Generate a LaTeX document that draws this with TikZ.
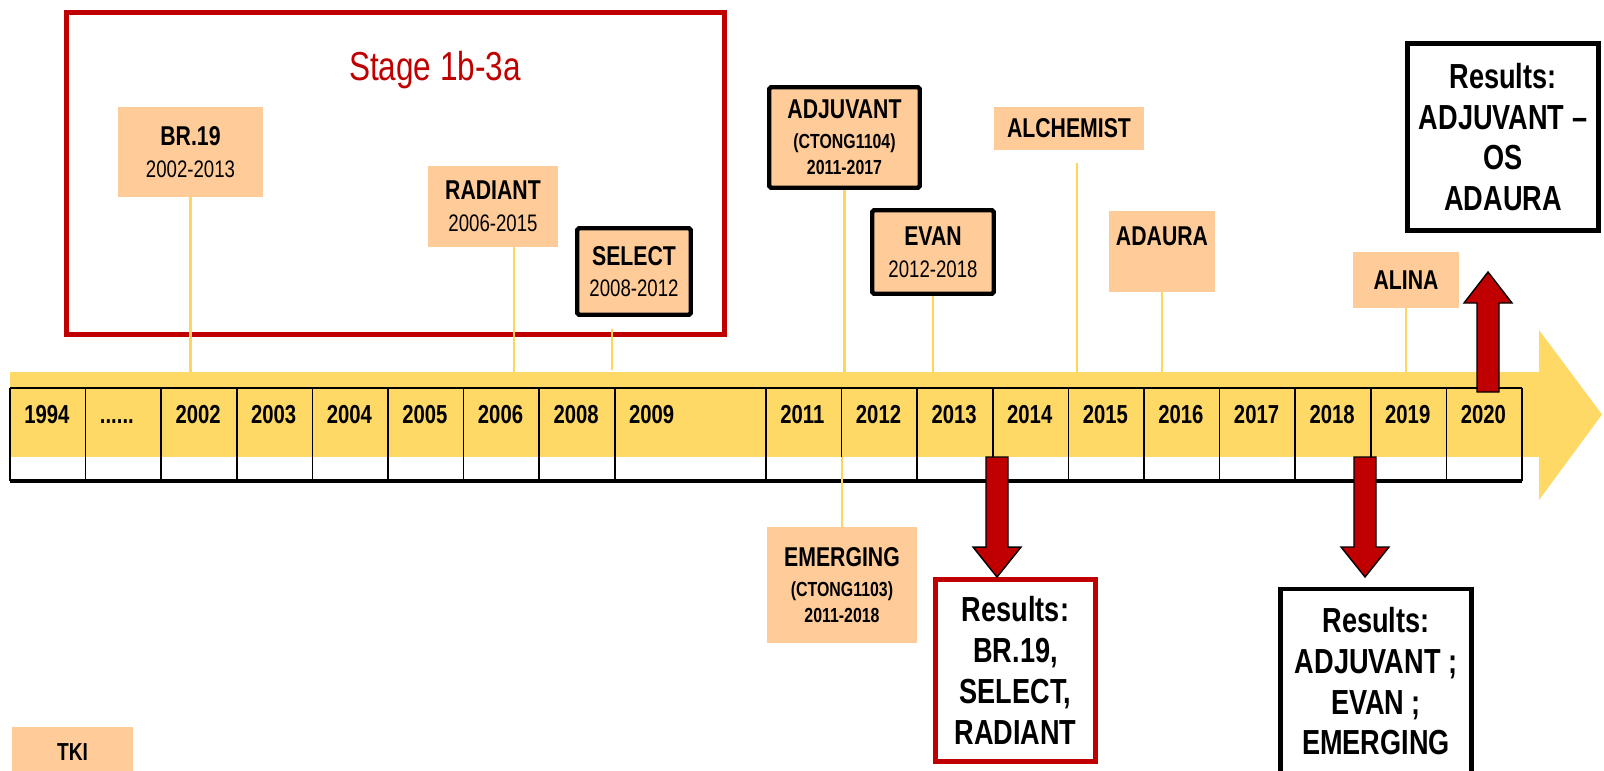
\documentclass[tikz,border=0pt]{standalone}
\usepackage{fontspec}
\setmainfont{Liberation Sans}[FakeStretch=0.78]
\usetikzlibrary{calc}

\definecolor{peach}{HTML}{FFCC99}
\definecolor{bandyellow}{HTML}{FFD966}
\definecolor{stemyellow}{HTML}{FFD55C}
\definecolor{stagered}{HTML}{C00000}

\newcommand{\trialyears}[1]{{\fontsize{13.6}{18}\selectfont\mdseries #1}}
\newcommand{\trialcode}[1]{{\fontsize{11.6}{14}\selectfont #1}}

\tikzset{
    trial/.style={fill=peach,align=center,inner sep=0pt,
        font=\fontsize{15.5}{18}\selectfont\bfseries},
    keytrial/.style={trial,draw=black,line width=2.5pt,rounded corners=1pt},
    result/.style={fill=white,draw=black,line width=2.8pt,align=center,inner sep=0pt,
        font=\fontsize{19.8}{23.2}\selectfont\bfseries},
    stem/.style={draw=stemyellow,line width=1.4pt},
    yearlbl/.style={anchor=base west,inner sep=0pt,font=\fontsize{14.8}{16}\selectfont\bfseries},
    bigarrow/.style={fill=stagered,draw=black,line width=0.8pt,line join=miter},
}

\begin{document}
\begin{tikzpicture}[x=0.02cm,y=-0.02cm]
        % Fix canvas
        \useasboundingbox (0,0) rectangle (1604,770);
        \clip (0,0) rectangle (1604,770);
        \fill[white] (0,0) rectangle (1604,770);
        % Draw stage frame
        \draw[stagered,line width=2.8pt] (66.5,12.5) rectangle (724.5,334.5);
        \node[text=stagered,font=\fontsize{23}{26}\selectfont] (stage) at (435,70) {Stage 1b-3a};
        % Draw timeline band with arrow head
        \fill[bandyellow] (10,372) rectangle (1540,457);
        \fill[bandyellow] (1539,330) -- (1602,414.5) -- (1539,500) -- cycle;
        \coordinate (bandtop) at (0,372);
        \coordinate (bandbot) at (0,457);
        % Draw year table
        \draw[line width=0.9pt] (10,388) -- (1522,388);
        \draw[line width=1.8pt] (10,481) -- (1522,481);
        \foreach \c in {0,1,2,3,4,5,6,7,8,10,11,12,13,14,15,16,17,18,19,20}
            \draw[line width=0.9pt] ({10+75.6*\c},388) -- ({10+75.6*\c},481);
        \foreach \c/\yr in {0/1994,1/{......},2/2002,3/2003,4/2004,5/2005,6/2006,7/2008,8/2009,
                10/2011,11/2012,12/2013,13/2014,14/2015,15/2016,16/2017,17/2018,18/2019,19/2020}
            \node[yearlbl] (y\c) at ({24+75.6*\c},423) {\yr};
        % Draw trial boxes
        \node[trial,minimum width=2.9cm,minimum height=1.8cm] (br19) at (190.5,152) {BR.19\\\trialyears{2002-2013}};
        \node[trial,minimum width=2.6cm,minimum height=1.62cm] (radiant) at (493,206.5) {RADIANT\\\trialyears{2006-2015}};
        \node[keytrial,minimum width=2.27cm,minimum height=1.73cm] (select) at (634,271.5) {SELECT\\\trialyears{2008-2012}};
        \node[keytrial,minimum width=3.01cm,minimum height=2.01cm,font=\fontsize{15.5}{14.7}\selectfont\bfseries] (adjuvant) at (844.5,137.5)
            {ADJUVANT\\[2.3pt]\trialcode{(CTONG1104)}\\\trialcode{2011-2017}};
        \node[keytrial,minimum width=2.43cm,minimum height=1.67cm] (evan) at (933,252) {EVAN\\\trialyears{2012-2018}};
        \node[trial,minimum width=3cm,minimum height=0.86cm] (alchemist) at (1069,128.5) {ALCHEMIST};
        \node[trial,minimum width=2.12cm,minimum height=1.62cm] (adaura) at (1162,251.5) {ADAURA\\\mbox{}};
        \node[trial,minimum width=2.12cm,minimum height=1.12cm] (alina) at (1406,280) {ALINA};
        \node[trial,minimum width=3cm,minimum height=2.32cm,font=\fontsize{15.5}{14.7}\selectfont\bfseries] (emerging) at (842,585)
            {EMERGING\\[2.3pt]\trialcode{(CTONG1103)}\\\trialcode{2011-2018}};
        \node[trial,minimum width=2.42cm,minimum height=1cm,font=\fontsize{14}{16}\selectfont\bfseries] (tki) at (72.5,752) {TKI};
        % Draw result boxes
        \node[result,minimum width=3.82cm,minimum height=3.74cm] (res3) at (1503,137) {Results:\\ADJUVANT –\\OS\\ADAURA};
        \node[result,draw=stagered,minimum width=3.2cm,minimum height=3.64cm] (res1) at (1015.5,670.5) {Results:\\BR.19,\\SELECT,\\RADIANT};
        \node[result,anchor=north,minimum width=3.82cm,minimum height=4.5cm] (res2) at (1376,586.5) {Results:\\ADJUVANT ;\\EVAN ;\\EMERGING\\\mbox{}};
        % Draw stems to the band
        \draw[stem] (br19.south) -- (br19.south |- bandtop);
        \coordinate (r2006) at ($(radiant.south)+(21,0)$);
        \draw[stem] (r2006) -- (r2006 |- bandtop);
        \coordinate (s2008) at ($(select.south)+(-22,12)$);
        \draw[stem] (s2008) -- ++(0,41);
        \draw[stem] (adjuvant.south) -- (adjuvant.south |- bandtop);
        \draw[stem] (evan.south) -- (evan.south |- bandtop);
        \coordinate (a2015) at ($(alchemist.south)+(8,13)$);
        \draw[stem] (a2015) -- (a2015 |- bandtop);
        \draw[stem] (adaura.south) -- (adaura.south |- bandtop);
        \draw[stem] (alina.south) -- (alina.south |- bandtop);
        \draw[stem] (emerging.north) -- (emerging.north |- bandbot);
        % Draw result arrows
        \coordinate (d2014) at (997,457);
        \coordinate (d2014tip) at (d2014 |- res1.north);
        \coordinate (d2018) at (1365,457);
        \coordinate (d2018tip) at (1365,577);
        \coordinate (u2020) at (1488,392);
        \coordinate (u2020tip) at (1488,272);
        \draw[bigarrow] ($(d2014)+(-11,0)$) -- ($(d2014)+(11,0)$) -- ($(d2014tip)+(11,-30)$) -- ($(d2014tip)+(24,-30)$)
            -- (d2014tip) -- ($(d2014tip)+(-24,-30)$) -- ($(d2014tip)+(-11,-30)$) -- cycle;
        \draw[bigarrow] ($(d2018)+(-11,0)$) -- ($(d2018)+(11,0)$) -- ($(d2018tip)+(11,-30)$) -- ($(d2018tip)+(24,-30)$)
            -- (d2018tip) -- ($(d2018tip)+(-24,-30)$) -- ($(d2018tip)+(-11,-30)$) -- cycle;
        \draw[bigarrow] ($(u2020)+(-11,0)$) -- ($(u2020)+(11,0)$) -- ($(u2020tip)+(11,31)$) -- ($(u2020tip)+(24,31)$)
            -- (u2020tip) -- ($(u2020tip)+(-24,31)$) -- ($(u2020tip)+(-11,31)$) -- cycle;
    \end{tikzpicture}
\end{document}
